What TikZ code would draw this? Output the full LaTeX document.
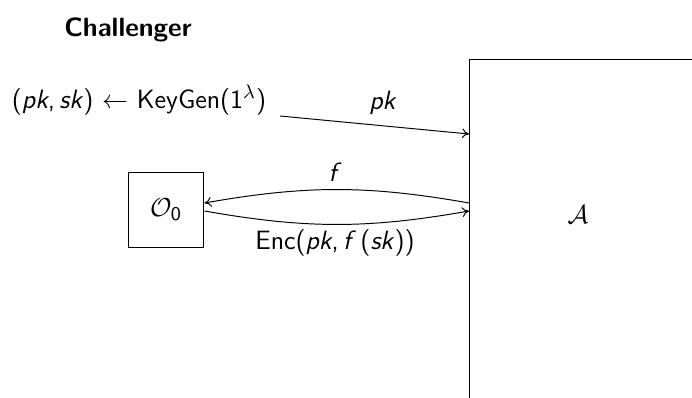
\documentclass[tikz,border=0pt]{standalone}
\usetikzlibrary{arrows.meta}
\begin{document}
\begin{tikzpicture}[x=0.4608pt,y=-0.4608pt,
  font=\fontsize{12.2}{14.6}\selectfont\sffamily,
  every node/.style={inner sep=0pt},
  msg/.style={-{To[length=3.2pt,width=4.5pt]}, line width=0.45pt},
  boxed/.style={draw, line width=0.45pt}]
  \useasboundingbox (0,0) rectangle (692,398);

  % parties
  \node[font=\fontsize{12.2}{14.6}\selectfont\sffamily\bfseries] (chal) at (128,30) {Challenger};
  \node (keygen) at (139,100) {(\textit{pk},\,\textit{sk}) $\leftarrow$ KeyGen(1\textsuperscript{$\lambda$})};
  \node[boxed, minimum size=35pt] (oracle) at (166,210) {$\mathcal{O}_{\mathsf{0}}$};
  % adversary frame: only its top and left sides fall inside the picture
  \node[anchor=north west, minimum width=200pt, minimum height=200pt] (adv) at (469,59) {};
  \draw[line width=0.45pt] (adv.south west) -- (adv.north west) -- (adv.north east);
  \node (advname) at (578,215) {$\mathcal{A}$};

  % public key to the adversary
  \coordinate (pkstart) at (280,116);
  \draw[msg] (pkstart) -- (adv.west |- 0,134);
  \node (pklabel) at (383,103) {\textit{pk}};

  % oracle queries and answers
  \draw[msg] (adv.west |- 0,203) to[bend right=10] (oracle.east |- 0,203);
  \draw[msg] (oracle.east |- 0,211) to[bend right=10] (adv.west |- 0,211);
  \node (flabel) at (335,172) {\textit{f}};
  \node (enclabel) at (335,243) {Enc(\textit{pk},\,\textit{f}\,(\textit{sk}))};
\end{tikzpicture}
\end{document}
